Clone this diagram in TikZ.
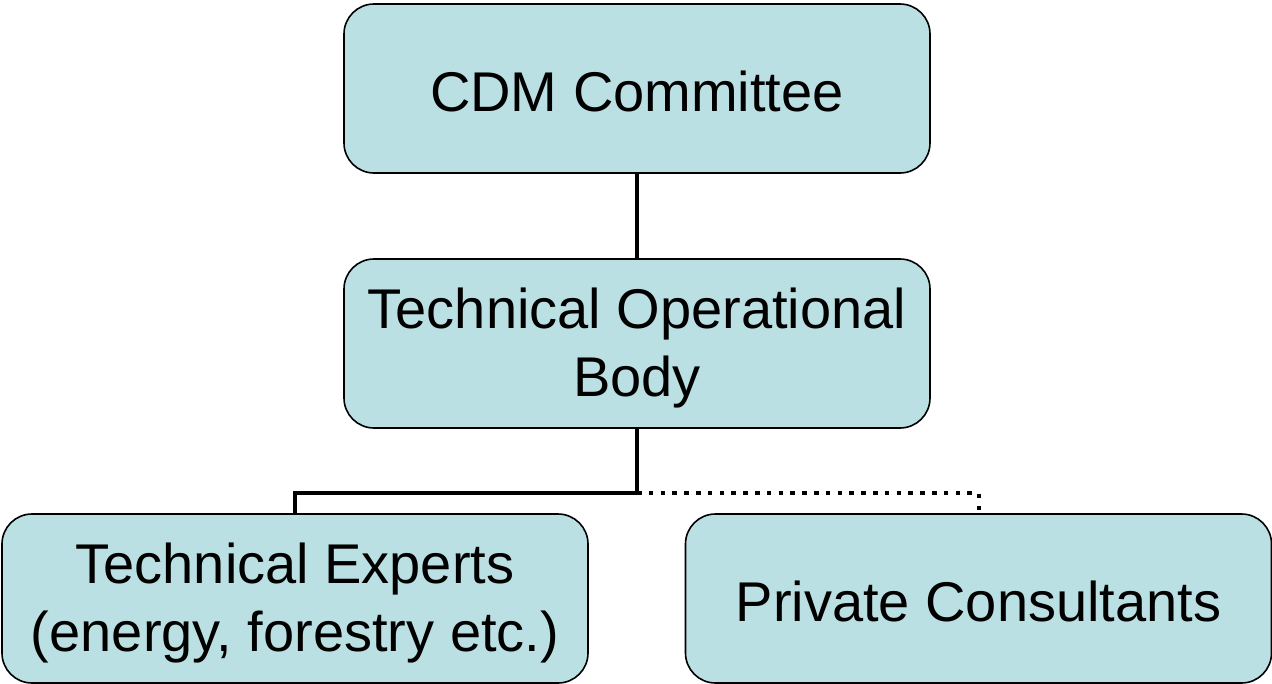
\documentclass[tikz,border=0pt]{standalone}
\usepackage{fontspec}
\setmainfont{Liberation Sans}
\definecolor{boxfill}{RGB}{187,224,227}
\begin{document}
\begin{tikzpicture}[x=1pt,y=-1pt,
  orgbox/.style={draw=black, line width=1.6pt, fill=boxfill, rounded corners=30pt,
    minimum width=586pt, minimum height=169pt, inner sep=0pt},
  orgtext/.style={inner sep=0pt, align=center, font=\fontsize{56}{68}\selectfont},
  solidlink/.style={line width=4pt},
  dottedlink/.style={line width=4pt, dash pattern=on 4.5pt off 7.3pt}]
\useasboundingbox (0,0) rectangle (1272,683);
\node[orgbox] (cdm) at (637,88.5) {};
\node[orgbox] (tob) at (637,343.5) {};
\node[orgbox] (te) at (295,598.5) {};
\node[orgbox] (pc) at (978.5,598.5) {};
\node[orgtext] (cdmt) at ([yshift=-3pt]cdm.center) {CDM Committee};
\node[orgtext] (tobt) at ([yshift=-5pt]tob.center) {Technical Operational\\Body};
\node[orgtext] (tet) at ([yshift=-5pt]te.center) {Technical Experts\\(energy, forestry etc.)};
\node[orgtext] (pct) at ([yshift=-3pt]pc.center) {Private Consultants};
\coordinate (j) at (637,493);
\draw[solidlink] (cdm.south) -- (tob.north);
\draw[solidlink] (tob.south) -- (j) -| (te.north);
\draw[dottedlink] (j) -| (pc.north);
\end{tikzpicture}
\end{document}
